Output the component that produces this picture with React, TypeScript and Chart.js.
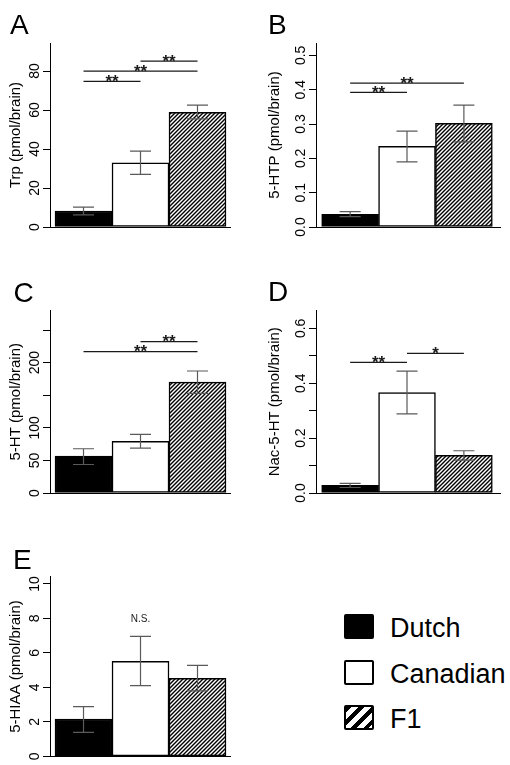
import React, { useEffect, useRef } from 'react';
import { Chart, registerables } from 'chart.js';

Chart.register(...registerables);

// ---------- data ----------
const groups = ['Dutch', 'Canadian', 'F1'];

const trpMean = [8.2, 32.9, 58.8];
const trpLow = [6.2, 27.0, 55.5];
const trpHigh = [10.2, 38.9, 62.5];
const trpTicks = [0, 20, 40, 60, 80];
const trpTickLabels = ['0', '20', '40', '60', '80'];
const trpMax = 94.4;
const trpSig: [number, number, number, string][] = [[0, 1, 74.7, '**'], [0, 2, 80, '**'], [1, 2, 85.1, '**']];

const htpMean = [0.037, 0.235, 0.302];
const htpLow = [0.03, 0.19, 0.248];
const htpHigh = [0.045, 0.279, 0.355];
const htpTicks = [0, 0.1, 0.2, 0.3, 0.4, 0.5];
const htpTickLabels = ['0.0', '0.1', '0.2', '0.3', '0.4', '0.5'];
const htpMax = 0.536;
const htpSig: [number, number, number, string][] = [[0, 1, 0.392, '**'], [0, 2, 0.419, '**']];

const htMean = [56.5, 79.2, 170.2];
const htLow = [43.7, 68.8, 152.8];
const htHigh = [67.9, 90.0, 187.2];
const htTicks = [0, 50, 100, 150, 200, 250];
const htTickLabels = ['0', '50', '100', '', '200', ''];
const htMax = 280;
const htSig: [number, number, number, string][] = [[0, 2, 217, '**'], [1, 2, 232.4, '**']];

const nacMean = [0.028, 0.366, 0.137];
const nacLow = [0.02, 0.288, 0.12];
const nacHigh = [0.035, 0.444, 0.154];
const nacTicks = [0, 0.1, 0.2, 0.3, 0.4, 0.5, 0.6];
const nacTickLabels = ['0.0', '', '0.2', '', '0.4', '', '0.6'];
const nacMax = 0.665;
const nacSig: [number, number, number, string][] = [[0, 1, 0.476, '**'], [1, 2, 0.509, '*']];

const hiaaMean = [2.17, 5.51, 4.52];
const hiaaLow = [1.39, 4.1, 3.8];
const hiaaHigh = [2.89, 6.96, 5.28];
const hiaaTicks = [0, 2, 4, 6, 8, 10];
const hiaaTickLabels = ['0', '2', '4', '6', '8', '10'];
const hiaaMax = 10.42;
const hiaaSig: [number, number, number, string][] = [[1, 1, 7.95, 'N.S.']];

// ---------- layout / style ----------
const FONT = '"Liberation Sans", Arial, sans-serif';
const TICK_SIZE = 14;
const TITLE_SIZE = 15;
const TICK_LEN = 7;
const TICK_OFFSET = 15;
const CANVAS = 255;

const COLS = [
  { left: 0, axisX: 50, axisEnd: 230.5, xMin: -0.588, xMax: 2.579, titleX: 16 },
  { left: 255, axisX: 316, axisEnd: 500, xMin: -0.6, xMax: 2.635, titleX: 275 },
];
const ROWS = [
  { top: 0, plotTop: 43, plotBottom: 227 },
  { top: 255, plotTop: 310.5, plotBottom: 493 },
  { top: 510, plotTop: 576.7, plotBottom: 759.3 },
];

const panels = [
  { letter: 'A', title: 'Trp (pmol/brain)', mean: trpMean, low: trpLow, high: trpHigh, ticks: trpTicks, labels: trpTickLabels, max: trpMax, sig: trpSig, col: 0, row: 0 },
  { letter: 'B', title: '5-HTP (pmol/brain)', mean: htpMean, low: htpLow, high: htpHigh, ticks: htpTicks, labels: htpTickLabels, max: htpMax, sig: htpSig, col: 1, row: 0 },
  { letter: 'C', title: '5-HT (pmol/brain)', mean: htMean, low: htLow, high: htHigh, ticks: htTicks, labels: htTickLabels, max: htMax, sig: htSig, col: 0, row: 1 },
  { letter: 'D', title: 'Nac-5-HT (pmol/brain)', mean: nacMean, low: nacLow, high: nacHigh, ticks: nacTicks, labels: nacTickLabels, max: nacMax, sig: nacSig, col: 1, row: 1 },
  { letter: 'E', title: '5-HIAA (pmol/brain)', mean: hiaaMean, low: hiaaLow, high: hiaaHigh, ticks: hiaaTicks, labels: hiaaTickLabels, max: hiaaMax, sig: hiaaSig, col: 0, row: 2 },
];

const LETTER_SIZE = 28;
const LETTER_POS: Record<string, { x: number; y: number }> = {
  A: { x: 10, y: 11 },
  B: { x: 268, y: 11 },
  C: { x: 13.5, y: 279 },
  D: { x: 268, y: 278 },
  E: { x: 13, y: 546 },
};

function makeHatch(): CanvasPattern | string {
  const s = 4;
  const c = document.createElement('canvas');
  c.width = s;
  c.height = s;
  const g = c.getContext('2d');
  if (!g) return '#888';
  g.fillStyle = '#fff';
  g.fillRect(0, 0, s, s);
  g.strokeStyle = '#000';
  g.lineWidth = 1.4;
  g.beginPath();
  g.moveTo(-s, s);
  g.lineTo(s, -s);
  g.moveTo(0, s);
  g.lineTo(s, 0);
  g.moveTo(0, 2 * s);
  g.lineTo(2 * s, 0);
  g.stroke();
  return g.createPattern(c, 'repeat') || '#888';
}

function measureWidest(labels: string[]): number {
  const c = document.createElement('canvas').getContext('2d');
  if (!c) return 0;
  c.font = `${TICK_SIZE}px ${FONT}`;
  return Math.max(...labels.map((l) => c.measureText(l).width));
}

const annotPlugin = {
  id: 'annot',
  afterDatasetsDraw(chart: any, _args: any, opts: any) {
    const { ctx } = chart;
    const x = chart.scales.x;
    const y = chart.scales.y;
    ctx.save();
    // error bars
    ctx.strokeStyle = '#5a5a5a';
    ctx.lineWidth = 1.2;
    (opts.low as number[]).forEach((lo, i) => {
      const px = x.getPixelForValue(i);
      const y1 = y.getPixelForValue(lo);
      const y2 = y.getPixelForValue(opts.high[i]);
      ctx.beginPath();
      ctx.moveTo(px, y1);
      ctx.lineTo(px, y2);
      ctx.moveTo(px - 10.5, y1);
      ctx.lineTo(px + 10.5, y1);
      ctx.moveTo(px - 10.5, y2);
      ctx.lineTo(px + 10.5, y2);
      ctx.stroke();
    });
    // significance
    (opts.sig as [number, number, number, string][]).forEach(([a, b, v, label]) => {
      const xa = x.getPixelForValue(a);
      const xb = x.getPixelForValue(b);
      const py = y.getPixelForValue(v);
      ctx.fillStyle = '#1a1a1a';
      ctx.textAlign = 'center';
      if (a !== b) {
        ctx.strokeStyle = '#1a1a1a';
        ctx.lineWidth = 1.3;
        ctx.beginPath();
        ctx.moveTo(xa, py);
        ctx.lineTo(xb, py);
        ctx.stroke();
        ctx.font = `bold 17px ${FONT}`;
        ctx.textBaseline = 'alphabetic';
        ctx.fillText(label, (xa + xb) / 2, py + 5.5);
      } else {
        ctx.font = `10px ${FONT}`;
        ctx.textBaseline = 'middle';
        ctx.fillText(label, xa, py);
      }
    });
    ctx.restore();
  },
};

function Panel({ p }: { p: (typeof panels)[number] }) {
  const ref = useRef<HTMLCanvasElement>(null);
  const col = COLS[p.col];
  const row = ROWS[p.row];
  useEffect(() => {
    if (!ref.current) return;
    const widest = measureWidest(p.labels);
    const tickPad = TICK_OFFSET - TICK_LEN - widest / 2;
    const yWidth = col.axisX - col.left;
    const titleLH = TITLE_SIZE * 1.2;
    const titlePad = col.titleX - col.left - titleLH / 2;
    const chart = new Chart(ref.current, {
      type: 'bar',
      data: {
        datasets: [
          {
            label: p.title,
            data: p.mean.map((v, i) => ({ x: i, y: v })),
            backgroundColor: ['#000', '#fff', makeHatch()],
            borderColor: '#000',
            borderWidth: 1.5,
            borderSkipped: false,
            barPercentage: 1,
            categoryPercentage: 1,
          } as any,
        ],
      },
      options: {
        responsive: false,
        animation: false,
        devicePixelRatio: 1,
        layout: {
          padding: {
            left: 0,
            top: row.plotTop - row.top,
            right: col.left + CANVAS - col.axisEnd,
            bottom: row.top + CANVAS - row.plotBottom,
          },
        },
        plugins: {
          legend: { display: false },
          tooltip: { enabled: false },
          annot: { low: p.low, high: p.high, sig: p.sig },
        } as any,
        scales: {
          x: {
            type: 'linear',
            min: col.xMin,
            max: col.xMax,
            offset: false,
            grid: { display: false },
            ticks: { display: false },
            border: { display: true, color: '#000', width: 1 },
            afterFit: (s: any) => {
              s.height = 0;
            },
          },
          y: {
            type: 'linear',
            min: 0,
            max: p.max,
            afterBuildTicks: (s: any) => {
              s.ticks = p.ticks.map((v) => ({ value: v }));
            },
            afterFit: (s: any) => {
              s.width = yWidth;
            },
            ticks: {
              callback: (_v: any, i: number) => p.labels[i],
              autoSkip: false,
              minRotation: 90,
              maxRotation: 90,
              crossAlign: 'center',
              padding: tickPad,
              color: '#000',
              font: { family: FONT, size: TICK_SIZE },
            },
            grid: { drawOnChartArea: false, drawTicks: true, tickLength: TICK_LEN, color: '#000', lineWidth: 1 },
            border: { display: true, color: '#000', width: 1 },
            title: {
              display: true,
              text: p.title,
              color: '#000',
              font: { family: FONT, size: TITLE_SIZE },
              padding: { top: titlePad, bottom: 0 },
            },
          },
        },
      } as any,
      plugins: [annotPlugin],
    });
    return () => chart.destroy();
  }, []);
  return (
    <canvas
      ref={ref}
      width={CANVAS}
      height={CANVAS}
      style={{ position: 'absolute', left: col.left, top: row.top, width: CANVAS, height: CANVAS, display: 'block' }}
    />
  );
}

const legendBox: React.CSSProperties = {
  position: 'absolute',
  left: 344,
  width: 30,
  height: 25,
  boxSizing: 'border-box',
  border: '2.5px solid #000',
  borderRadius: 2,
};

const legendText: React.CSSProperties = {
  position: 'absolute',
  left: 390,
  fontFamily: FONT,
  fontSize: 27,
  lineHeight: 1,
  color: '#000',
  whiteSpace: 'nowrap',
};

export default function App() {
  const legendBg = ['#000', '#fff', 'repeating-linear-gradient(135deg, #000 0px, #000 4px, #fff 4px, #fff 9px)'];
  const legendTops = [614, 659.5, 705];
  return (
    <div style={{ position: 'fixed', left: 0, top: 0, width: 510, height: 765, background: '#fff', overflow: 'hidden' }}>
      {panels.map((p) => (
        <Panel key={p.letter} p={p} />
      ))}
      {panels.map((p) => (
        <div
          key={'l' + p.letter}
          style={{
            position: 'absolute',
            left: LETTER_POS[p.letter].x,
            top: LETTER_POS[p.letter].y,
            fontFamily: FONT,
            fontSize: LETTER_SIZE,
            lineHeight: 1,
            color: '#000',
          }}
        >
          {p.letter}
        </div>
      ))}
      {groups.map((g, i) => (
        <React.Fragment key={g}>
          <div style={{ ...legendBox, top: legendTops[i], background: legendBg[i] }} />
          <div style={{ ...legendText, top: legendTops[i] + 24 - 22.9 }}>{g}</div>
        </React.Fragment>
      ))}
    </div>
  );
}
